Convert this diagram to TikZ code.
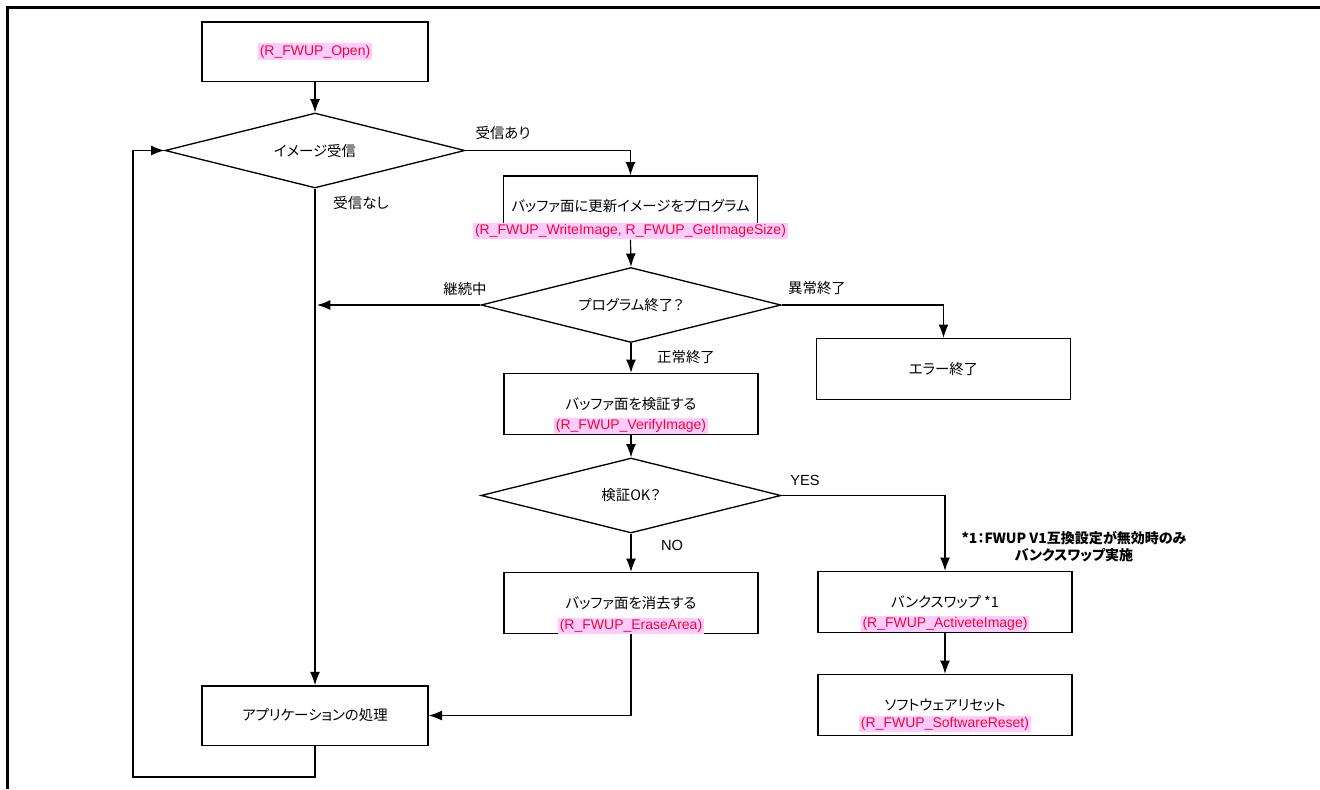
\documentclass[tikz,border=0pt]{standalone}
\usepackage{fontspec}
\setmainfont{Liberation Sans}
\newfontfamily\jp[RawFeature=+palt]{Noto Sans CJK JP}
\usepackage{xcolor}
\usetikzlibrary{arrows.meta,shapes.geometric}
\definecolor{fnpink}{HTML}{FFCCFF}
\definecolor{fnred}{HTML}{FF0033}

\begin{document}
\begin{tikzpicture}[x=0.75pt,y=-0.75pt,
        box/.style={draw,line width=1pt,minimum width=190.5pt,minimum height=45.75pt,
            font=\jp\fontsize{10.8}{12}\selectfont},
        smallbox/.style={box,minimum width=169.5pt,minimum height=44.5pt},
        decision/.style={draw,diamond,aspect=4,line width=1pt,inner sep=0pt,
            minimum width=225pt,minimum height=56.25pt,font=\jp\fontsize{10.8}{12}\selectfont},
        fn/.style={fill=fnpink,text=fnred,inner sep=1.2pt,font=\fontsize{10.5}{12}\selectfont},
        lbl/.style={font=\jp\fontsize{10.8}{12}\selectfont},
        yn/.style={font=\fontsize{11}{13}\selectfont},
        note/.style={align=center,font=\jp\bfseries\fontsize{10.5}{12.75}\selectfont},
        flow/.style={line width=0.9pt,-{Latex[length=10pt,width=7.5pt]}}]
            \useasboundingbox (0,0) rectangle (1320,789);
            \draw[line width=1.8pt] (1320,7.5) -- (7.5,7.5) -- (7.5,789);

            % left column
            \node[smallbox] (open) at (315,51.5) {};
            \node[fn] (openfn) at (open.center) {(R\_FWUP\_Open)};
            \node[decision] (recv) at (315,150.5) {イメージ受信};
            \node[smallbox] (app) at (315,715.5) {アプリケーションの処理};

            % middle column
            \node[box] (prog) at (630.5,206.5) {バッファ面に更新イメージをプログラム};
            \node[fn] (progfn) at ([yshift=-18.5pt]prog.center) {(R\_FWUP\_WriteImage, R\_FWUP\_GetImageSize)};
            \node[decision] (progend) at (631,305) {プログラム終了？};
            \node[box] (verify) at (631,404) {バッファ面を検証する};
            \node[fn] (verifyfn) at ([yshift=-16.5pt]verify.center) {(R\_FWUP\_VerifyImage)};
            \node[decision] (ok) at (631,495.5) {検証OK？};
            \node[box] (erase) at (631,603) {バッファ面を消去する};
            \node[fn] (erasefn) at ([yshift=-17pt]erase.center) {(R\_FWUP\_EraseArea)};

            % right column
            \node[box] (err) at (943.5,369) {エラー終了};
            \node[box] (bank) at (945,602) {バンクスワップ *1};
            \node[fn] (bankfn) at ([yshift=-16.5pt]bank.center) {(R\_FWUP\_ActiveteImage)};
            \node[box] (reset) at (945,705) {ソフトウェアリセット};
            \node[fn] (resetfn) at ([yshift=-14.5pt]reset.center) {(R\_FWUP\_SoftwareReset)};
            \node[note] (banknote) at (1074,546.5) {*1：FWUP V1互換設定が無効時のみ\\バンクスワップ実施};

            \coordinate (join) at (317,305);
            \coordinate (loop) at (133,777);

            \draw[flow] (open) -- (recv);
            \draw[flow] (recv.east) -| (prog.north);
            \draw[flow] (recv.south) -- (app.north);
            \draw[flow] (progfn.south -| prog.south) -- (progend.north);
            \draw[flow] (progend.west) -- (join);
            \draw[flow] (progend.east) -| (err.north);
            \draw[flow] (progend.south) -- (verify.north);
            \draw[flow] (verify.south) -- (ok.north);
            \draw[flow] (ok.east) -| (bank.north);
            \draw[flow] (ok.south) -- (erase.north);
            \draw[flow] (erase.south) |- (app.east);
            \draw[flow] (bank.south) -- (reset.north);
            \draw[flow] (app.south) |- (loop) |- (recv.west);

            \node[lbl] (lblrecv) at (503,133) {受信あり};
            \node[lbl] (lblnone) at (361,203) {受信なし};
            \node[lbl] (lblcont) at (465,289) {継続中};
            \node[lbl] (lblfail) at (817,288) {異常終了};
            \node[lbl] (lbldone) at (686,357) {正常終了};
            \node[yn] (lblyes) at (805,480) {YES};
            \node[yn] (lblno) at (672,545) {NO};
\end{tikzpicture}
\end{document}
